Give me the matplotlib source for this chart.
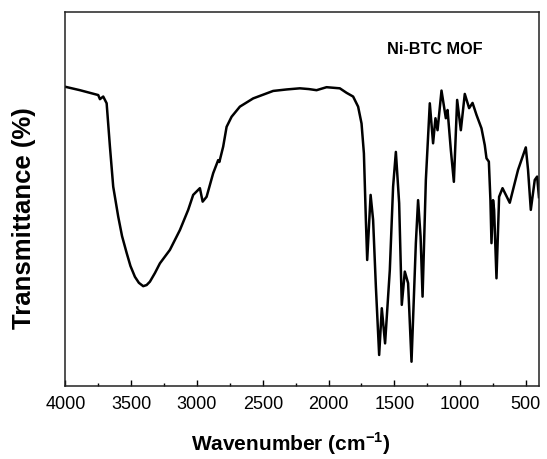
import matplotlib
matplotlib.use("Agg")
import matplotlib.pyplot as plt
from matplotlib.ticker import MultipleLocator

plt.rcParams['font.family'] = ['Liberation Sans', 'DejaVu Sans']
plt.rcParams['mathtext.fontset'] = 'custom'
plt.rcParams['mathtext.rm'] = 'Liberation Sans'
plt.rcParams['mathtext.bf'] = 'Liberation Sans:bold'

# FTIR spectrum (arbitrary transmittance units)
wavenumber = [
    4000, 3890, 3751, 3738, 3713, 3687, 3662, 3637, 3599, 3570,
    3535, 3506, 3472, 3442, 3409, 3383, 3358, 3320, 3282, 3206,
    3130, 3067, 3029, 2978, 2957, 2927, 2877, 2839, 2830, 2801,
    2775, 2737, 2674, 2573, 2421, 2318, 2218, 2150, 2091, 2015,
    1914, 1863, 1813, 1775, 1749, 1731, 1716, 1706,
    1680, 1661, 1640, 1615, 1595, 1570, 1534, 1509, 1488, 1463,
    1443, 1420, 1395, 1369, 1336, 1319, 1300, 1285, 1260, 1230,
    1205, 1187, 1171, 1141, 1108, 1095, 1070, 1047, 1022, 994,
    964, 931, 905, 875, 837, 812, 799, 781, 769, 761,
    749, 741, 723, 703, 677, 622, 559, 500, 483, 462,
    432, 414, 400,
]
transmittance = [
    80.0, 79.1, 77.8, 76.7, 77.4, 75.6, 64.0, 53.3, 45.3, 40.1,
    35.6, 32.1, 29.2, 27.6, 26.7, 27.0, 27.9, 30.2, 32.8, 36.4,
    41.7, 47.1, 51.1, 52.9, 49.3, 50.6, 56.9, 60.4, 59.9, 64.0,
    69.3, 72.0, 74.7, 76.9, 78.9, 79.3, 79.6, 79.4, 79.1, 79.9,
    79.6, 78.4, 77.4, 74.7, 70.2, 62.2, 44.4, 33.7,
    51.1, 44.4, 26.6, 8.3, 20.8, 11.4, 31.0, 53.3, 62.6, 48.9,
    21.7, 30.6, 27.5, 6.5, 38.2, 49.7, 39.9, 23.9, 55.1, 75.6,
    64.9, 71.6, 68.4, 79.0, 71.6, 73.8, 63.1, 54.6, 76.5, 68.4,
    78.1, 74.3, 75.7, 72.5, 68.9, 64.4, 60.9, 60.0, 49.7, 38.2,
    49.7, 47.1, 28.8, 50.6, 52.9, 49.0, 57.8, 63.8, 57.8, 47.1,
    55.1, 56.0, 50.5,
]
x_ticks = [4000, 3500, 3000, 2500, 2000, 1500, 1000, 500]
sample_label = "Ni-BTC MOF"

fig = plt.figure(figsize=(5.47, 4.59), dpi=100)
ax = fig.add_axes([0.1197, 0.159, 0.8656, 0.8148])

ax.plot(wavenumber, transmittance, color='black', lw=1.8, solid_joinstyle='round')

ax.set_xlim(4000, 400)
ax.set_ylim(0, 100)
ax.set_xticks(x_ticks)
ax.xaxis.set_minor_locator(MultipleLocator(250))
ax.set_yticks([])
ax.tick_params(axis='x', which='major', direction='in', length=4, width=1,
               labelsize=13, pad=7)
ax.tick_params(axis='x', which='minor', direction='in', length=2.5, width=1)
for s in ax.spines.values():
    s.set_linewidth(1.1)
    s.set_color('#222222')

ax.set_xlabel(r'Wavenumber (cm$^{\mathbf{-1}}$)', fontsize=15, fontweight='bold')
ax.xaxis.set_label_coords(0.475, -0.12)
ax.xaxis.label.set_verticalalignment('top')
ax.set_ylabel('Transmittance (%)', fontsize=18.5, fontweight='bold')
ax.yaxis.set_label_coords(-0.062, 0.449)

ax.text(0.88, 0.9, sample_label, transform=ax.transAxes, ha='right', va='center',
        fontsize=11.7, fontweight='bold')

fig.savefig('out.png', dpi=100)
